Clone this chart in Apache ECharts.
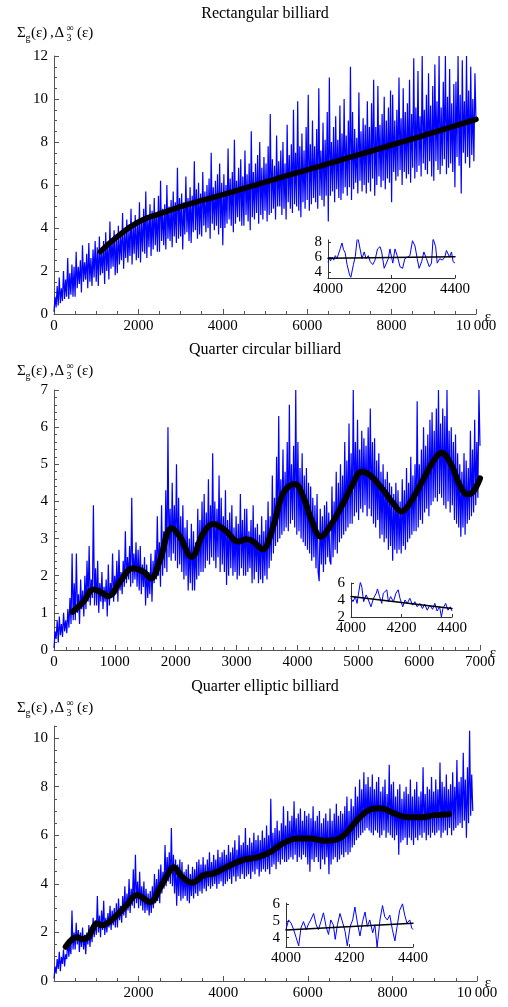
<!DOCTYPE html>
<html><head><meta charset="utf-8">
<script src="https://cdn.jsdelivr.net/npm/echarts@6/dist/echarts.min.js"></script>
<style>html,body{margin:0;padding:0;background:#fff}#c{width:508px;height:1007px}</style>
</head><body><div id="c"></div>
<script>
const titles = ['Rectangular billiard', 'Quarter circular billiard', 'Quarter elliptic billiard'];

// Panel 1: rectangular billiard (step 25 in epsilon)
const rectStep = 25;
const rectBlue = [
0.1,0.8,0.3,1.3,0.4,1.7,0.5,1.2,0.6,2.0,0.7,1.6,0.8,2.6,0.7,1.9,0.9,2.3,0.8,2.2,
0.8,2.9,1.2,2.2,1.4,2.5,1.0,3.2,1.5,2.4,1.6,2.8,1.2,3.3,1.5,2.6,1.3,3.0,1.7,3.4,
1.5,3.1,1.3,3.6,1.8,2.9,1.9,3.4,1.4,3.8,2.0,3.2,1.6,4.3,2.1,3.5,2.2,3.9,1.8,3.6,
1.9,4.1,2.3,3.6,2.5,4.7,2.1,3.8,2.6,4.4,2.4,3.9,2.7,4.9,2.3,4.2,2.8,4.6,2.5,4.3,
2.6,5.2,2.4,4.4,2.9,4.9,2.8,5.7,2.6,4.6,3.1,5.1,2.7,4.8,3.0,5.4,3.2,4.7,2.9,5.5,
2.9,6.2,3.4,4.9,3.2,5.1,3.0,6.0,3.5,5.0,3.4,5.3,3.1,5.7,3.6,5.2,3.3,6.8,3.5,5.4,
3.6,5.6,3.0,5.2,3.7,6.4,3.8,5.4,3.4,5.9,3.3,5.5,3.8,7.1,3.9,5.8,3.5,6.1,3.7,5.6,
3.6,6.6,4.1,5.7,3.8,6.0,4.0,6.3,3.5,7.5,4.2,5.9,3.9,6.2,4.1,6.5,3.7,7.0,4.0,6.1,
3.2,6.5,4.0,6.0,4.2,7.7,4.4,6.3,4.1,6.6,3.8,8.1,4.2,6.2,4.5,6.8,4.3,7.2,4.1,6.4,
4.1,7.6,4.6,6.5,4.3,7.0,3.9,8.5,4.5,6.6,4.4,7.0,4.7,7.4,4.2,8.0,4.6,6.8,4.4,7.3,
4.8,7.0,4.3,7.8,4.6,9.3,4.7,7.2,4.9,6.9,4.4,8.3,5.0,7.1,5.0,7.6,4.6,8.0,4.9,7.0,
4.4,8.8,5.2,7.4,4.9,7.9,4.7,9.5,5.1,7.5,5.0,9.9,4.8,7.8,4.5,8.4,5.2,7.6,4.9,8.7,
5.3,10.2,4.8,7.9,5.1,9.0,5.4,7.8,5.2,8.6,4.9,10.5,5.5,7.6,5.3,8.9,5.0,8.1,5.5,9.4,
4.3,11.0,5.5,8.0,5.7,8.7,5.2,9.2,5.8,8.1,5.4,9.7,5.3,8.4,5.6,10.0,5.9,8.3,5.5,9.0,
5.9,11.5,5.3,9.4,5.8,8.6,6.1,8.2,5.6,10.3,6.2,8.5,5.7,9.1,6.0,8.8,5.6,9.9,6.1,8.7,
5.7,9.8,6.3,10.9,5.5,8.7,6.0,10.6,6.4,8.8,5.9,9.3,6.2,10.1,5.8,9.0,6.3,9.6,6.1,10.4,
5.2,10.2,6.6,9.0,6.2,9.5,6.4,11.0,6.7,9.1,6.0,10.5,6.6,9.4,6.3,9.8,6.5,10.9,6.1,9.3,
6.8,11.9,6.3,9.6,6.6,11.3,6.9,9.2,6.4,12.0,7.0,9.5,6.7,10.2,6.5,11.2,7.1,9.7,6.4,10.6,
6.2,11.6,7.1,9.9,6.7,12.0,6.5,9.6,6.9,10.8,7.2,12.0,6.5,10.1,6.8,11.4,7.0,9.8,6.6,10.7,
5.9,10.8,7.3,12.0,6.9,10.2,5.6,11.8,7.5,9.9,7.0,12.0,7.3,10.4,6.8,11.5,7.4,10.0,7.1,11.2,
9.0];
const rectBlack = [[1100,2.9],[1500,3.6],[2000,4.28],[2500,4.66],[3000,4.99],[3500,5.28],[4000,5.55],[4500,5.84],[5000,6.13],[5500,6.42],[6000,6.7],[6500,6.99],[7000,7.28],[7500,7.57],[8000,7.86],[8500,8.15],[9000,8.45],[9500,8.75],[10000,9.05]];
const rectInsetEps = [4000,4004,4008,4013,4018,4023,4028,4033,4039,4044,4049,4054,4060,4068,4072,4080,4086,4093,4101,4107,4114,4120,4127,4133,4141,4148,4156,4164,4169,4177,4183,4190,4195,4204,4211,4218,4227,4235,4242,4250,4258,4266,4274,4281,4287,4295,4302,4310,4319,4326,4331,4339,4344,4352,4360,4368,4373,4378,4383,4389,4394,4400];
const rectInsetVal = [5.3,5.9,5.5,6.0,5.6,6.2,5.8,6.4,7.2,7.9,7.0,6.6,5.0,3.6,3.3,5.0,6.1,8.9,7.1,5.8,6.7,5.8,6.2,5.4,5.0,5.6,7.1,7.4,6.7,4.5,4.3,5.8,7.1,5.2,7.1,6.2,4.7,4.5,5.8,6.0,6.2,8.2,7.5,5.8,4.5,5.4,6.7,5.8,4.7,5.2,8.5,7.4,5.2,5.8,5.6,6.0,6.9,7.1,6.0,6.7,5.4,5.2];
const rectInsetFit = [[4000,5.85],[4400,6.05]];

// Panel 2: quarter circular billiard (step 17.5)
const circStep = 17.5;
const circBlue = [
0.05,0.5,0.3,0.8,0.2,0.9,0.4,0.7,0.35,1.0,0.5,0.8,0.45,1.1,0.6,1.4,0.7,2.6,0.8,1.8,
0.8,2.6,1.0,1.5,0.7,1.9,1.1,1.6,0.9,2.0,1.1,2.4,1.3,2.8,1.2,1.9,1.4,3.9,1.2,2.2,
1.2,2.4,1.0,1.8,1.3,2.1,1.1,1.7,1.3,1.9,0.9,2.3,1.2,1.8,1.4,2.6,1.3,2.0,1.5,2.4,
1.3,2.7,1.6,2.1,1.5,2.4,1.7,3.2,1.8,2.5,1.9,2.8,1.7,4.1,1.8,2.6,1.9,2.9,1.7,2.7,
1.6,2.8,1.5,2.3,1.7,2.5,1.2,2.3,1.4,2.1,1.5,2.6,1.3,2.4,1.8,2.7,1.9,3.6,2.0,2.9,
1.7,3.9,2.0,3.2,2.2,4.3,2.1,6.0,2.5,3.8,2.4,4.5,2.6,3.9,2.4,5.0,2.2,4.1,2.3,3.6,
2.1,3.9,1.9,3.3,2.0,3.5,1.6,3.0,1.8,3.4,1.6,3.2,1.6,2.9,1.9,3.8,2.0,3.5,2.1,4.0,
2.1,4.2,2.2,3.7,2.4,4.6,2.3,3.9,2.5,5.3,2.4,4.0,2.2,3.8,2.5,4.7,2.1,4.1,2.3,3.6,
2.1,4.3,1.75,3.5,2.0,3.7,2.2,3.9,2.0,3.3,2.1,3.6,1.9,3.4,2.0,4.2,2.2,3.5,2.0,3.8,
2.0,3.8,2.1,3.2,2.2,3.5,1.8,3.9,1.9,3.3,2.1,3.4,1.8,3.1,1.9,3.6,1.8,3.2,2.0,3.5,
1.9,4.0,2.2,3.6,2.4,4.7,2.6,4.1,2.8,5.2,2.9,6.3,3.0,4.6,3.1,5.4,3.2,4.8,3.3,5.6,
3.2,6.6,3.4,5.0,3.5,5.5,3.3,7.0,3.1,5.6,3.2,4.9,3.0,5.3,2.9,4.7,2.8,4.9,2.7,4.5,
2.6,4.4,2.4,4.1,2.5,3.9,2.2,4.2,2.1,1.85,3.8,2.3,3.6,2.1,3.9,2.3,4.0,2.5,3.7,2.4,
2.3,4.4,2.5,4.0,2.7,4.8,2.6,4.5,2.9,5.0,3.0,4.7,3.1,5.6,3.2,5.1,3.3,6.1,3.4,5.3,
3.4,7.0,3.6,5.6,3.7,6.2,3.5,5.4,3.8,5.9,3.7,5.7,3.9,5.5,3.6,6.0,3.8,6.5,3.6,5.6,
3.4,5.7,3.3,5.1,3.5,5.3,3.0,4.8,3.1,5.0,2.9,4.6,3.0,4.8,2.7,4.5,2.8,4.4,2.4,4.2,
2.7,4.5,2.6,4.3,2.7,4.0,2.6,4.6,2.8,4.3,2.7,4.9,2.9,4.5,3.0,5.2,3.1,4.7,3.2,5.0,
3.2,6.7,3.3,5.0,3.5,5.4,3.4,6.0,3.7,5.5,3.8,5.8,3.6,6.2,3.9,6.4,4.0,5.9,4.1,6.5,
4.0,7.0,4.2,6.1,4.1,6.5,3.9,6.3,3.8,7.0,4.0,5.9,3.7,6.0,3.9,5.6,3.5,5.8,3.4,5.3,
3.3,5.0,3.05,4.8,3.3,5.3,3.1,5.1,3.4,4.9,3.5,5.9,3.6,5.4,3.7,6.2,3.9,5.6,4.1,7.0,
5.5];
const circBlack = [[306,1.03],[482,1.30],[646,1.63],[755,1.57],[892,1.45],[1084,1.84],[1292,2.2],[1467,2.11],[1593,1.93],[1741,2.42],[1932,3.28],[2069,3.05],[2260,2.51],[2452,3.14],[2616,3.39],[2808,3.23],[3027,2.92],[3164,2.98],[3273,2.92],[3426,2.71],[3601,3.32],[3766,4.22],[3957,4.47],[4094,4.13],[4231,3.5],[4384,3.05],[4532,3.32],[4751,3.95],[4915,4.49],[5052,4.8],[5189,4.71],[5408,4.31],[5572,3.95],[5709,3.73],[5846,3.95],[6064,4.58],[6229,5.07],[6366,5.31],[6530,4.98],[6667,4.44],[6793,4.19],[6886,4.26],[7000,4.62]];
const circInsetEps = [4000,4008,4017,4024,4030,4037,4043,4050,4060,4069,4079,4089,4100,4105,4113,4122,4128,4142,4148,4157,4168,4178,4187,4194,4205,4214,4223,4233,4244,4253,4262,4273,4283,4292,4302,4312,4323,4332,4341,4351,4358,4364,4375,4384,4393,4400];
const circInsetVal = [4.2,3.8,4.4,3.6,4.8,6.1,5.5,3.8,4.6,4.0,3.2,4.2,4.8,5.3,4.4,3.6,4.8,5.2,3.8,4.4,3.8,4.8,5.2,4.2,3.2,4.0,3.6,4.2,3.4,3.8,3.2,3.6,3.0,3.5,2.8,3.4,2.9,3.6,2.7,3.2,2.0,3.0,3.6,2.8,3.2,2.7];
const circInsetFit = [[4000,4.4],[4400,3.0]];

// Panel 3: quarter elliptic billiard (step 25)
const ellStep = 25;
const ellBlue = [
0.1,0.6,0.3,0.9,0.5,1.2,0.4,1.0,0.7,1.3,0.6,1.1,0.9,1.7,1.0,1.5,1.1,2.9,1.3,2.0,
1.3,2.4,1.5,2.1,1.2,2.0,1.4,2.2,1.3,1.9,1.1,2.0,1.5,2.3,1.4,2.1,1.6,2.6,1.8,2.5,
1.9,3.5,2.0,2.7,1.8,2.9,2.1,3.3,1.9,2.6,2.0,2.8,2.2,3.1,2.1,2.9,2.3,3.0,2.2,3.2,
2.2,3.4,2.5,3.1,2.4,3.5,2.7,3.9,2.6,3.6,2.9,4.2,2.8,3.8,3.1,4.6,3.0,5.2,3.2,4.1,
3.0,4.5,3.1,3.9,2.9,4.1,2.8,3.8,2.9,3.6,2.7,3.7,2.8,3.9,3.0,4.4,3.2,4.2,3.3,4.6,
3.2,4.8,3.6,4.5,3.8,5.6,3.9,5.1,4.1,5.3,4.0,6.3,3.9,5.2,3.6,5.0,3.1,4.8,3.5,5.0,
3.3,4.9,3.4,4.5,3.5,4.6,3.3,4.8,3.2,4.4,3.5,4.7,3.4,4.6,3.6,4.9,3.5,5.0,3.7,4.8,
3.6,5.1,3.8,4.8,3.7,5.0,3.9,5.3,3.8,4.9,3.9,5.2,4.0,5.0,3.8,5.4,4.0,5.1,4.1,5.3,
3.9,5.4,4.0,5.2,4.1,5.6,4.2,5.3,4.0,5.5,4.3,5.8,4.1,5.4,4.3,6.0,4.2,5.6,4.4,5.7,
4.2,6.3,4.3,5.6,4.4,5.9,4.2,5.7,4.5,6.1,4.4,5.8,4.6,6.0,4.3,5.8,4.5,6.2,4.6,5.9,
4.5,6.4,4.6,6.0,4.4,7.5,4.7,6.1,4.8,6.3,4.6,6.6,4.9,6.2,4.8,6.5,5.0,7.2,4.9,6.4,
4.9,7.0,5.0,6.6,5.1,6.8,5.0,7.4,5.2,6.7,4.9,6.9,5.1,7.1,5.0,6.6,5.2,7.0,5.1,6.8,
4.8,6.9,4.5,6.7,5.0,7.2,4.9,6.6,5.1,6.8,4.9,7.0,4.6,6.5,5.0,6.7,4.8,6.9,5.1,6.6,
4.4,7.1,4.8,6.6,5.0,6.9,5.1,7.3,4.9,6.8,5.0,7.0,5.2,6.9,5.1,7.2,5.3,7.6,5.2,7.0,
5.3,7.5,5.5,7.2,5.6,8.0,5.8,7.6,5.9,8.3,6.0,7.9,6.1,8.6,6.2,8.1,6.3,8.4,6.2,8.0,
6.1,8.5,6.0,7.9,6.2,8.2,6.1,8.4,5.9,7.8,6.0,8.0,6.2,8.3,5.9,7.7,6.1,8.9,6.0,8.1,
5.9,8.2,5.8,7.6,6.0,7.9,5.2,8.1,5.7,7.5,5.8,7.8,5.9,8.0,5.6,7.7,5.9,8.3,5.8,7.6,
5.6,7.9,5.9,8.2,5.8,7.6,6.0,7.8,5.9,8.8,6.1,7.7,5.8,8.0,6.0,7.9,5.9,8.4,6.1,7.8,
6.0,8.3,6.1,7.9,6.2,9.0,5.9,8.2,6.1,8.0,6.2,8.5,6.0,7.9,6.3,8.1,6.0,8.6,6.2,8.0,
6.3,9.1,6.4,8.2,6.5,8.4,6.3,9.4,6.6,8.3,5.9,8.8,6.5,10.3,6.8,8.5,7.0];
const ellBlack = [[277,1.41],[458,1.76],[560,1.8],[656,1.72],[813,1.82],[900,2.1],[1011,2.37],[1130,2.3],[1406,2.58],[1722,3.13],[1959,3.54],[2270,3.25],[2512,3.85],[2749,4.57],[2828,4.68],[3025,4.29],[3262,4.05],[3539,4.36],[3776,4.43],[4092,4.7],[4487,5.0],[4803,5.09],[5118,5.32],[5434,5.69],[5750,5.87],[6066,5.87],[6382,5.78],[6619,5.8],[6856,6.0],[7172,6.63],[7449,7.04],[7725,7.11],[8041,6.9],[8357,6.74],[8673,6.74],[8989,6.83],[9344,6.87]];
const ellInsetEps = [4000,4008,4016,4024,4032,4040,4047,4055,4064,4071,4078,4087,4095,4102,4110,4118,4126,4134,4141,4149,4155,4162,4170,4179,4186,4193,4202,4210,4217,4225,4233,4241,4249,4256,4264,4273,4280,4287,4296,4304,4311,4319,4327,4335,4343,4350,4358,4367,4374,4381,4390,4396,4400];
const ellInsetVal = [4.48,5.05,4.86,4.48,4.0,3.52,4.57,4.95,4.48,4.82,5.05,5.43,4.76,4.48,4.95,5.47,4.67,4.19,5.05,4.76,3.9,4.76,5.43,4.86,4.38,3.52,4.67,5.05,5.81,4.86,4.1,4.95,5.52,4.67,5.05,4.29,4.76,3.43,5.05,5.9,5.24,5.05,5.33,4.48,3.81,4.67,5.62,6.0,5.33,4.86,5.05,4.57,4.48];
const ellInsetFit = [[4000,4.45],[4400,4.86]];

const mainYTicks1 = [0,2,4,6,8,10,12];
const mainYTicks3 = [0,2,4,6,8,10];
const insetYTicks1 = [4,6,8];
const insetYTicks3 = [4,5,6];

// ---------- build ----------
const FONT = '"Liberation Serif","Times New Roman",serif';
const AX = '#555';
const EPS = '\u03b5';
const pairs = (arr, step) => arr.map((v, i) => [i * step, v]);
const zip = (xs, ys) => xs.map((x, i) => [x, ys[i]]);
const big = v => v >= 10000 ? String(v).replace(/(\d)(\d{3})$/, '$1\u2009$2') : String(v);

function mainX(grid, max, interval, split, hideZero) {
  return {
    type: 'value', gridIndex: grid, min: 0, max: max, interval: interval,
    axisLine: { show: true, onZero: false, lineStyle: { color: AX, width: 1 } },
    axisTick: { show: true, inside: true, length: 5, lineStyle: { color: AX } },
    minorTick: { show: true, splitNumber: split, length: 3, lineStyle: { color: AX } },
    splitLine: { show: false }, minorSplitLine: { show: false },
    axisLabel: { fontFamily: FONT, fontSize: 15, color: '#000', margin: 5,
      formatter: v => (hideZero && v === 0) ? '' : big(v) }
  };
}
function mainY(grid, max, interval, split) {
  return {
    type: 'value', gridIndex: grid, min: 0, max: max, interval: interval, position: 'left',
    axisLine: { show: true, onZero: false, lineStyle: { color: AX, width: 1 } },
    axisTick: { show: true, inside: true, length: 5, lineStyle: { color: AX } },
    minorTick: { show: split > 0, splitNumber: split || 1, length: 3, lineStyle: { color: AX } },
    splitLine: { show: false }, minorSplitLine: { show: false },
    axisLabel: { fontFamily: FONT, fontSize: 15, color: '#000', margin: 6 }
  };
}
function insetX(grid) {
  return {
    type: 'value', gridIndex: grid, min: 4000, max: 4400, interval: 200,
    axisLine: { show: true, onZero: false, lineStyle: { color: '#333', width: 1 } },
    axisTick: { show: true, inside: true, length: 3, lineStyle: { color: '#333' } },
    splitLine: { show: false },
    axisLabel: { fontFamily: FONT, fontSize: 15, color: '#000', margin: 4, formatter: v => String(v) }
  };
}
function insetY(grid, min, max, ticks) {
  return {
    type: 'value', gridIndex: grid, min: min, max: max, position: 'left',
    axisLine: { show: true, onZero: false, lineStyle: { color: '#333', width: 1 } },
    axisTick: { show: true, inside: true, length: 3, customValues: ticks, lineStyle: { color: '#333' } },
    splitLine: { show: false },
    axisLabel: { fontFamily: FONT, fontSize: 15, color: '#000', margin: 6, customValues: ticks, formatter: v => String(v) }
  };
}
function blue(x, y, data, w) {
  return { type: 'line', xAxisIndex: x, yAxisIndex: y, data: data, showSymbol: false, symbol: 'none',
    lineStyle: { color: '#0000ff', width: w }, z: 2, silent: true };
}
function black(x, y, data, w, smooth) {
  return { type: 'line', xAxisIndex: x, yAxisIndex: y, data: data, showSymbol: false, symbol: 'none',
    smooth: smooth, lineStyle: { color: '#000', width: w, cap: 'round', join: 'round' }, z: 3, silent: true };
}
function txt(text, x, y, size, align) {
  return { type: 'text', x: x, y: y, silent: true,
    style: { text: text, fontFamily: FONT, fontSize: size, fill: '#000', align: align || 'left', verticalAlign: 'middle' } };
}
function yLabel(cy) {
  return [txt('\u03a3', 17, cy, 15), txt('g', 25.5, cy + 5, 10), txt('(' + EPS + ')', 31, cy, 15), txt(',', 50, cy, 15),
          txt('\u0394', 54.5, cy, 15), txt('3', 66.5, cy + 5, 10), txt('\u221e', 66.5, cy - 5, 10), txt('(' + EPS + ')', 77, cy, 15)];
}

const grids = [
  { left: 54, top: 56, width: 422, height: 258 },
  { left: 328, top: 240, width: 127, height: 38 },
  { left: 54, top: 390, width: 426, height: 260 },
  { left: 351, top: 583, width: 101, height: 34 },
  { left: 54, top: 726, width: 423, height: 255 },
  { left: 286, top: 903, width: 127, height: 44 }
].map(g => Object.assign({ containLabel: false, outerBoundsMode: 'none' }, g));

const ell3Minor = mainY(4, 10.5, 0.5, 0);
ell3Minor.axisTick.length = 3;
ell3Minor.axisLabel = { show: false };
ell3Minor.minorTick = { show: false };
const ell3Major = mainY(4, 10.5, 0.5, 0);
ell3Major.axisLine = { show: false };
ell3Major.minorTick = { show: false };
ell3Major.axisTick.customValues = mainYTicks3;
ell3Major.axisLabel.customValues = mainYTicks3;

const rectY = mainY(0, 12, 2, 4);
rectY.axisLabel.customValues = mainYTicks1;

const option = {
  animation: false,
  backgroundColor: '#fff',
  grid: grids,
  xAxis: [
    mainX(0, 10000, 2000, 4, false),
    insetX(1),
    mainX(2, 7000, 1000, 5, false),
    insetX(3),
    mainX(4, 10000, 2000, 4, true),
    insetX(5)
  ],
  yAxis: [
    rectY,
    insetY(1, 3.2, 8.3, insetYTicks1),
    mainY(2, 7, 1, 5),
    insetY(3, 2, 6, [2, 4, 6]),
    ell3Minor,
    insetY(5, 3.45, 6.05, insetYTicks3),
    ell3Major
  ],
  series: [
    blue(0, 0, pairs(rectBlue, rectStep), 1.2),
    black(0, 0, rectBlack, 5.5, true),
    blue(1, 1, zip(rectInsetEps, rectInsetVal), 1),
    black(1, 1, rectInsetFit, 1.5, false),
    blue(2, 2, pairs(circBlue, circStep), 1.2),
    black(2, 2, circBlack, 6, 0.4),
    blue(3, 3, zip(circInsetEps, circInsetVal), 1),
    black(3, 3, circInsetFit, 1.5, false),
    blue(4, 4, pairs(ellBlue, ellStep), 1.2),
    black(4, 4, ellBlack, 6, 0.4),
    blue(5, 5, zip(ellInsetEps, ellInsetVal), 1),
    black(5, 5, ellInsetFit, 1.5, false)
  ],
  graphic: [
    txt(titles[0], 265, 14, 16, 'center'), txt(titles[1], 265, 350, 16, 'center'), txt(titles[2], 265, 687, 16, 'center'),
    txt(EPS, 488, 317, 15, 'center'), txt(EPS, 493, 653, 15, 'center'), txt(EPS, 488, 983, 15, 'center')
  ].concat(yLabel(33), yLabel(371), yLabel(708))
};

const chart = echarts.init(document.getElementById('c'), null, { renderer: 'canvas' });
chart.setOption(option);
</script>
</body></html>
